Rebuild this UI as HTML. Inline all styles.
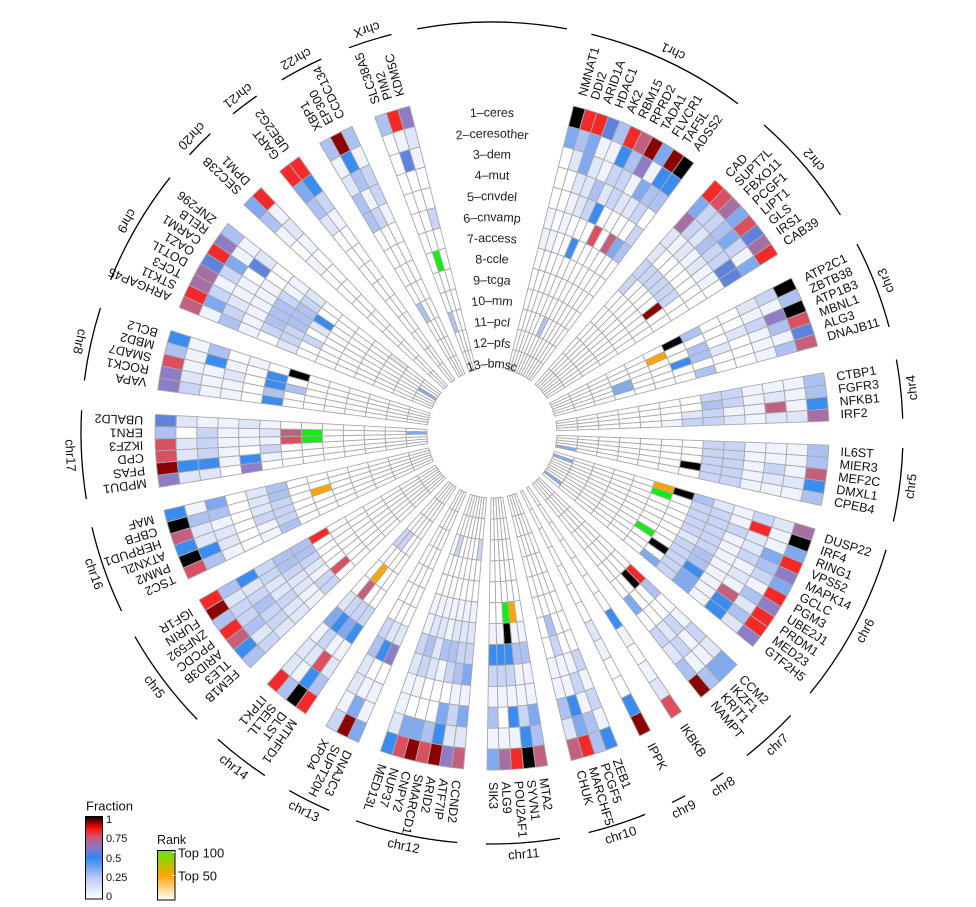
<!DOCTYPE html>
<html><head><meta charset="utf-8">
<style>
html,body{margin:0;padding:0;background:#fff;}
svg{display:block;}
text{font-family:"Liberation Sans",Arial,sans-serif;}
</style></head><body>
<svg id="s" width="976" height="907" viewBox="0 0 976 907" xmlns="http://www.w3.org/2000/svg" xmlns:xlink="http://www.w3.org/1999/xlink">
<defs>
<linearGradient id="gf" x1="0" y1="1" x2="0" y2="0">
 <stop offset="0" stop-color="#ffffff"/>
 <stop offset="0.25" stop-color="#bfcaf3"/>
 <stop offset="0.5" stop-color="#2e86ee"/>
 <stop offset="0.62" stop-color="#8c78c4"/>
 <stop offset="0.75" stop-color="#c8587a"/>
 <stop offset="0.85" stop-color="#ff1010"/>
 <stop offset="0.93" stop-color="#8b0000"/>
 <stop offset="1" stop-color="#000000"/>
</linearGradient>
<linearGradient id="gr" x1="0" y1="1" x2="0" y2="0">
 <stop offset="0" stop-color="#ffffff"/>
 <stop offset="0.5" stop-color="#ffa500"/>
 <stop offset="1" stop-color="#5ee600"/>
</linearGradient>
</defs>
<rect width="976" height="907" fill="#fff"/>
<text x="86" y="810.5" font-size="13" fill="#111">Fraction</text>
<rect x="85.5" y="816.5" width="17" height="82.5" fill="url(#gf)" stroke="#000" stroke-width="1"/>
<text x="106" y="820" font-size="11" dominant-baseline="central" fill="#111">1</text>
<text x="106" y="839" font-size="11" dominant-baseline="central" fill="#111">0.75</text>
<text x="106" y="859" font-size="11" dominant-baseline="central" fill="#111">0.5</text>
<text x="106" y="878" font-size="11" dominant-baseline="central" fill="#111">0.25</text>
<text x="106" y="897" font-size="11" dominant-baseline="central" fill="#111">0</text>
<text x="157" y="844" font-size="12.5" fill="#111">Rank</text>
<rect x="157.5" y="850.5" width="17.5" height="49.5" fill="url(#gr)" stroke="#000" stroke-width="1"/>
<line x1="172" y1="852.5" x2="175" y2="852.5" stroke="#fff" stroke-width="1"/>
<line x1="172" y1="875.5" x2="175" y2="875.5" stroke="#fff" stroke-width="1"/>
<text x="178" y="853" font-size="13" dominant-baseline="central" fill="#111">Top 100</text>
<text x="178" y="876" font-size="13" dominant-baseline="central" fill="#111">Top 50</text>
</svg>
<script>
(function(){
const NS="http://www.w3.org/2000/svg";
const svg=document.getElementById('s');
const cx=492,cy=433,R0=65,R1=337,NR=13,RW=(R1-R0)/NR,W=2.07;
const rad=d=>d*Math.PI/180;
const P=(r,t)=>[cx+r*Math.sin(rad(t)), cy-r*Math.cos(rad(t))];
function el(tag,attrs,parent){const e=document.createElementNS(NS,tag);for(const k in attrs)e.setAttribute(k,attrs[k]);(parent||svg).appendChild(e);return e;}
const chroms=[
["chr1",[["NMNAT1","K5000110"],["DDI2","F420001"],["ARID1A","F5521"],["HDAC1","71221"],["AK2","41143"],["RBM15","F632"],["RPRD2","Q423"],["TADA1","DV12"],["FLVCR1","5151"],["TAF5L","D643"],["ADSS2","K64"]]],
["chr2",[["CAD","F5P2"],["SUPT7L","R331"],["FBXO11","P342"],["PCGF1","5441"],["LIPT1","R532"],["GLS","7341"],["IRS1","P131"],["CAB39","F57"]]],
["chr3",[["ATP2C1","K31"],["ZBTB38","411"],["ATP1B3","KV2"],["MBNL1","R41"],["ALG3","712"],["DNAJB11","Q41"]]],
["chr4",[["CTBP1","41113300"],["FGFR3","41213400"],["NFKB1","61Q11320"],["IRF2","P2212331"]]],
["chr5",[["IL6ST","41113300"],["MIER3","41113300"],["MEF2C","Q1313300"],["DMXL1","62213300"],["CPEB4","41113300"]]],
["chr6",[["DUSP22","P2312400"],["IRF4","K1F13300"],["RING1","51213300"],["VPS52","F5213300"],["MAPK14","V4112300"],["GCLC","53113200"],["PGM3","F1212300"],["UBE2J1","V4114300"],["PRDM1","F2216300"],["MED23","F3Q1530"],["GTF2H5","V2615300"]]],
["chr7",[["CCM2","5231"],["IKZF1","5113"],["KRIT1","4112"],["NAMPT","D411"]]],
["chr8",[["IKBKB","R2101"]]],
["chr9",[["IPPK","D6001"]]],
["chr10",[["ZEB1","61310"],["PCGF5","44111"],["MARCHF5","F5611"],["CHUK","Q2411"]]],
["chr11",[["MTA2","Q4511410"],["SYVN1","K631141O"],["POU2AF1","F16136KG"],["ALG9","P1013610"],["SIK3","51413610"]]],
["chr12",[["CCND2","Q2515321"],["ATF7IP","V2314321"],["ARID2","D6503421"],["SMARCD1","R4001411"],["CNPY2","D5002321"],["NUP37","R5013421"],["MED13L","62112311"]]],
["chr13",[["DNAJC3","5110V2"],["SUPT20H","D51062"],["XPO4","312243"]]],
["chr14",[["MTHFD1","F42163"],["DLST","K6R153"],["SEL1L","412363QO"],["ITPK1","F22152"]]],
["chr5",[["FEM1B","432213"],["TLE3","623213"],["ARID3B","Q43321"],["PPCDC","F34322"],["ZNF592","433233"],["FURIN","D22344"],["IGF1R","F46344F"]]],
["chr16",[["TSC2","R41014"],["PMM2","K62013"],["ATXN2L","622033"],["HERPUD1","Q210230O"],["CBFB","K44024"],["MAF","615024"]]],
["chr17",[["MPDU1","V220V0"],["PFAS","D66161"],["CPD","R23103"],["IKZF3","R23111RG"],["ERN1","403112QG"],["UBALD2","721121"]]],
["chr8",[["VAPA","V311060"],["ROCK1","V211040"],["SMAD7","R112064"],["MBD2","4161060"],["BCL2","614010K"]]],
["chr9",[["ARHGAP45","Q14102"],["STK11","F53123"],["TCF3","P32143"],["DOT1L","P11144"],["OAZ1","731144"],["CARM1","F501236"],["RELB","V17013"],["ZNF296","412012"]]],
["chr20",[["SEC23B","541010"],["DPM1","F12100"]]],
["chr21",[["GART","F542"],["UBE2G2","F631"]]],
["chr22",[["XBP1","41211"],["EP300","D6411"],["CCDC134","41311"]]],
["chrX",[["SLC38A5","4000"],["PIM2","F170000G"],["KDM5C","V2100300"]]]
];
const gaps=[4.65,4.65,4.65,4.1,4.1,4.1,4.1,4.1,4.1,4.1,4.0,4.0,4.0,4.0,4.0,4.0,4.18,4.18,4.18,4.18,4.18,4.18];
const C={'0':'#ffffff','1':'#eff3fd','2':'#dfe6f9','3':'#c9d5f6','4':'#adc2f3','5':'#7fa9f1','6':'#3b8cf0','7':'#5f82dc','V':'#8e7cc6','P':'#a66ea2','Q':'#c4607e','R':'#da5060','F':'#f42a2a','D':'#8b0000','K':'#000000','G':'#11ee11','O':'#ffa500'};
const genes=[],sectors=[];
let t=14;
chroms.forEach((c,ci)=>{
  const st=t;
  c[1].forEach(g=>{
    const s=g[1];const arr=[];
    for(let i=0;i<NR;i++)arr.push(i<s.length?s[i]:'0');
    genes.push({name:g[0],t0:t,t1:t+W,tc:t+W/2,col:arr});
    t+=W;
  });
  sectors.push({label:c[0],s:st,e:t});
  if(ci<gaps.length)t+=gaps[ci];
});
const pts=[
[573,252,'6'],[598,235,'R'],[607,240,'Q'],[600,215,'6'],[615,247,'5'],[623,252,'4'],[662,207,'4'],[580,200,'2'],[590,205,'3'],[610,200,'3'],[620,190,'3'],[630,215,'2'],[640,230,'3'],[648,245,'2'],[560,230,'1'],[542,323,'4'],
[725,273,'7'],[640,265,'3'],[650,275,'3'],[660,285,'3'],[645,285,'3'],[655,295,'3'],[668,300,'3'],[637,280,'3'],[657,310,'D'],[700,240,'2'],[710,255,'3'],[690,250,'2'],[720,260,'3'],
[676,346,'K'],[655,358,'O'],[679,365,'6'],[695,333,'4'],[699,346,'4'],[702,359,'4'],[705,372,'4'],[740,330,'2'],[755,345,'1'],[730,350,'2'],[760,320,'3'],[745,310,'2'],[614,389,'5'],
[690,464,'K'],
[760,527,'F'],[727,592,'Q'],[722,603,'6'],[740,613,'4'],[663,487,'O'],[660,493,'G'],[683,493,'K'],[703,500,'4'],[642,526,'G'],[646,532,'G'],[658,547,'K'],[650,558,'5'],[692,568,'6'],[683,577,'5'],[697,555,'4'],[720,520,'3'],[730,530,'3'],[715,540,'3'],[745,560,'3'],[705,535,'3'],[710,515,'3'],
[629,578,'K'],[635,571,'F'],[635,603,'5'],[645,587,'4'],[660,640,'3'],[670,650,'2'],[680,640,'3'],
[615,622,'6'],
[573,702,'6'],[565,703,'4'],[583,720,'5'],[553,627,'4'],[575,680,'3'],[590,660,'3'],[560,655,'3'],[585,640,'2'],
[440,640,'2'],[400,538,'3'],
[317,538,'F'],[338,567,'R'],[270,560,'3'],[280,590,'2'],
[213,502,'5'],
[323,320,'6'],[290,320,'4'],[283,310,'4'],[300,330,'4'],[295,305,'3'],[305,315,'4'],[310,340,'3'],[278,330,'3'],[325,335,'2'],
[370,215,'4'],[380,225,'3'],[360,205,'4'],[390,200,'3'],[433,220,'3'],[420,305,'4'],[448,320,'4'],[437,262,'G'],[406,160,'7'],
[425,394,'5'],[413,432,'5'],[564,447,'5'],[563,457,'5'],[553,478,'5'],[395,360,'2'],[408,538,'3'],[459,543,'3'],[479,546,'3'],[622,389,'5']
];
pts.forEach(p=>{
  const dx=p[0]-cx,dy=cy-p[1];const r=Math.hypot(dx,dy);
  let th=Math.atan2(dx,dy)*180/Math.PI; if(th<0)th+=360;
  const ri=Math.floor((R1-r)/RW); if(ri<0||ri>=NR)return;
  let best=null,bd=1e9;
  genes.forEach(g=>{let d=Math.abs(g.tc-th);if(d>180)d=360-d;if(d<bd){bd=d;best=g;}});
  if(best&&bd<3)best.col[ri]=p[2];
});
const gc=el('g',{stroke:'#a9a9a9','stroke-width':'0.9'});
genes.forEach(g=>{
  for(let ri=0;ri<NR;ri++){
    const ro=R1-ri*RW,rin=ro-RW;
    const a=P(ro,g.t0),b=P(ro,g.t1),c=P(rin,g.t1),d=P(rin,g.t0);
    const f=(v)=>v.toFixed(2);
    el('path',{d:`M${f(a[0])},${f(a[1])}A${ro},${ro} 0 0 1 ${f(b[0])},${f(b[1])}L${f(c[0])},${f(c[1])}A${rin},${rin} 0 0 0 ${f(d[0])},${f(d[1])}Z`,fill:C[g.col[ri]]||'#fff'},gc);
  }
});
// gene labels
const gl=el('g',{'font-size':'12.5',fill:'#111'});
genes.forEach(g=>{
  const [x,y]=P(349,g.tc);
  const tx=el('text',{x:x.toFixed(2),y:y.toFixed(2),'dominant-baseline':'central','text-anchor':'start',transform:`rotate(${(g.tc-90).toFixed(2)} ${x.toFixed(2)} ${y.toFixed(2)})`},gl);
  tx.textContent=g.name;
});
// chromosome arcs and labels
const RA=411;
function arc(r,t1,t2){const a=P(r,t1),b=P(r,t2);const lg=(t2-t1)>180?1:0;return `M${a[0].toFixed(2)},${a[1].toFixed(2)}A${r},${r} 0 ${lg} 1 ${b[0].toFixed(2)},${b[1].toFixed(2)}`;}
const ag=el('g',{fill:'none',stroke:'#000','stroke-width':'1.3'});
sectors.forEach(s=>{el('path',{d:arc(RA,s.s,s.e)},ag);});
el('path',{d:arc(RA,-10.5,10.5)},ag);
const cl=el('g',{'font-size':'13',fill:'#111'});
sectors.forEach(s=>{
  const m=(s.s+s.e)/2;const [x,y]=P(422,m);
  const tx=el('text',{x:x.toFixed(2),y:y.toFixed(2),'dominant-baseline':'central','text-anchor':'middle',transform:`rotate(${(m+180).toFixed(2)} ${x.toFixed(2)} ${y.toFixed(2)})`},cl);
  tx.textContent=s.label;
});
// ring labels
const names=["1\u2013ceres","2\u2013ceresother","3\u2013dem","4\u2013mut","5\u2013cnvdel","6\u2013cnvamp","7-access","8-ccle","9\u2013tcga","10\u2013mm","11\u2013pcl","12\u2013pfs","13\u2013bmsc"];
const defs=svg.querySelector('defs');
names.forEach((n,i)=>{
  const rc=R1-(i+0.5)*RW; const rr=rc-6;
  const a=P(rr,-80),b=P(rr,80);
  el('path',{id:'rp'+i,d:`M${a[0].toFixed(2)},${a[1].toFixed(2)}A${rr.toFixed(2)},${rr.toFixed(2)} 0 0 1 ${b[0].toFixed(2)},${b[1].toFixed(2)}`,fill:'none'},defs);
  const tx=el('text',{'font-size':'12.5',fill:'#222','dominant-baseline':'central'});
  const tp=document.createElementNS(NS,'textPath');
  tp.setAttribute('href','#rp'+i);
  tp.setAttributeNS('http://www.w3.org/1999/xlink','xlink:href','#rp'+i);
  tp.setAttribute('startOffset','50%');
  tp.setAttribute('text-anchor','middle');
  tp.textContent=n;
  tx.appendChild(tp);
});
})();
</script>
</body></html>
